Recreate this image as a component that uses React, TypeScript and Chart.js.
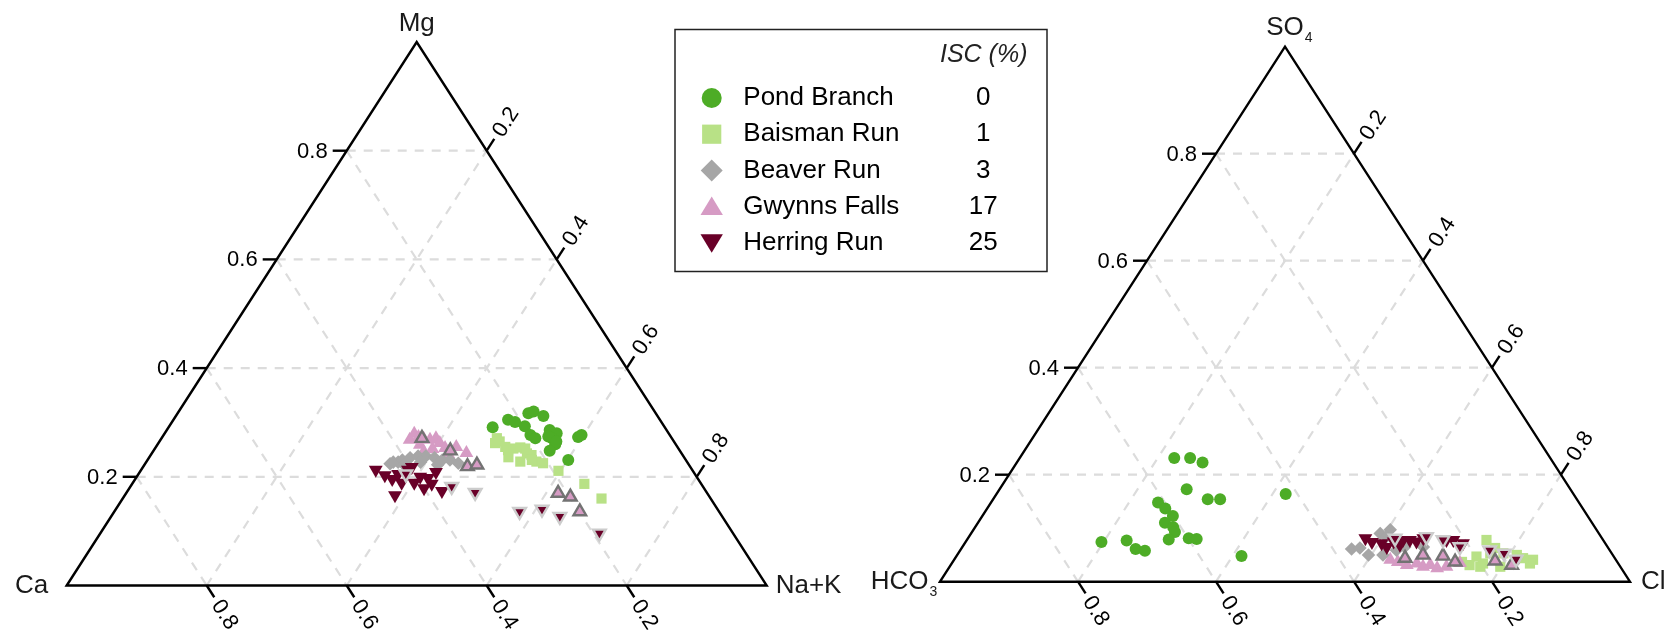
import { useEffect, useRef } from "react";
import { Chart, registerables } from "chart.js";

Chart.register(...registerables);

type Tern = [number, number, number];

const FONT = '"Liberation Sans", Arial, Helvetica, sans-serif';

const TICK_VALUES = [0.2, 0.4, 0.6, 0.8];
const TICK_LABELS = ["0.2", "0.4", "0.6", "0.8"];

const SITES = ["Pond Branch", "Baisman Run", "Beaver Run", "Gwynns Falls", "Herring Run"];
const ISC = ["0", "1", "3", "17", "25"];
const COLORS = ["#4dac26", "#b8e186", "#a6a6a6", "#d69bc4", "#690028"];
const OUTLINE_GWYNNS = "#737373";
const OUTLINE_HERRING = "#cccccc";

// ---------- Cations: [Ca, Mg, Na+K] ----------
const pondCations: Tern[] = [
  [0.246, 0.291, 0.463], [0.217, 0.305, 0.478], [0.209, 0.301, 0.49], [0.199, 0.293, 0.508],
  [0.182, 0.317, 0.501], [0.173, 0.32, 0.507], [0.163, 0.312, 0.525], [0.199, 0.277, 0.524],
  [0.195, 0.271, 0.534], [0.167, 0.286, 0.547], [0.16, 0.28, 0.56], [0.171, 0.271, 0.558],
  [0.172, 0.26, 0.568], [0.186, 0.248, 0.566], [0.133, 0.273, 0.594], [0.126, 0.277, 0.597],
  [0.168, 0.231, 0.601], [0.175, 0.274, 0.551], [0.168, 0.265, 0.567],
];
const baismanCations: Tern[] = [
  [0.25, 0.271, 0.479], [0.249, 0.265, 0.486], [0.246, 0.255, 0.499], [0.245, 0.249, 0.506],
  [0.236, 0.252, 0.512], [0.225, 0.254, 0.521], [0.219, 0.252, 0.529], [0.221, 0.243, 0.536],
  [0.216, 0.24, 0.544], [0.215, 0.228, 0.557], [0.207, 0.225, 0.568], [0.238, 0.228, 0.534],
  [0.251, 0.236, 0.513], [0.192, 0.211, 0.597], [0.167, 0.187, 0.646], [0.156, 0.16, 0.684],
  [0.257, 0.262, 0.481], [0.22, 0.231, 0.549],
];
const beaverCations: Tern[] = [
  [0.426, 0.224, 0.35], [0.413, 0.227, 0.36], [0.42, 0.227, 0.353], [0.405, 0.231, 0.364],
  [0.392, 0.235, 0.373], [0.379, 0.238, 0.383], [0.368, 0.238, 0.394], [0.357, 0.235, 0.408],
  [0.348, 0.231, 0.421], [0.337, 0.231, 0.432], [0.328, 0.225, 0.447], [0.407, 0.222, 0.371],
  [0.381, 0.227, 0.392], [0.359, 0.222, 0.419],
];
const gwynnsCations: Tern[] = [
  [0.376, 0.268, 0.356], [0.364, 0.279, 0.357], [0.361, 0.273, 0.366], [0.355, 0.27, 0.375],
  [0.347, 0.268, 0.385], [0.337, 0.271, 0.392], [0.336, 0.262, 0.402], [0.333, 0.253, 0.414],
  [0.352, 0.251, 0.397], [0.367, 0.246, 0.387], [0.334, 0.242, 0.424], [0.316, 0.255, 0.429],
  [0.307, 0.244, 0.449], [0.366, 0.259, 0.375],
];
const gwynnsOutlinedCations: Tern[] = [
  [0.357, 0.271, 0.372], [0.328, 0.248, 0.424], [0.318, 0.219, 0.463], [0.303, 0.222, 0.475],
  [0.213, 0.17, 0.617], [0.199, 0.163, 0.638], [0.199, 0.136, 0.665],
];
const herringCations: Tern[] = [
  [0.452, 0.213, 0.335], [0.444, 0.203, 0.353], [0.437, 0.196, 0.367], [0.424, 0.205, 0.371],
  [0.427, 0.189, 0.384], [0.406, 0.213, 0.381], [0.398, 0.218, 0.384], [0.409, 0.189, 0.402],
  [0.395, 0.2, 0.405], [0.385, 0.198, 0.417], [0.385, 0.187, 0.428], [0.368, 0.209, 0.423],
  [0.377, 0.174, 0.449], [0.448, 0.166, 0.386], [0.4, 0.179, 0.421],
];
const herringOutlinedCations: Tern[] = [
  [0.413, 0.205, 0.382], [0.359, 0.182, 0.459], [0.331, 0.171, 0.498], [0.285, 0.136, 0.579],
  [0.251, 0.14, 0.609], [0.232, 0.127, 0.641], [0.191, 0.096, 0.713],
];

// ---------- Anions: [HCO3, SO4, Cl] ----------
const pondAnions: Tern[] = [
  [0.545, 0.231, 0.224], [0.522, 0.231, 0.247], [0.508, 0.223, 0.269], [0.556, 0.173, 0.271],
  [0.535, 0.154, 0.311], [0.517, 0.154, 0.329], [0.61, 0.148, 0.242], [0.605, 0.137, 0.258],
  [0.601, 0.123, 0.276], [0.619, 0.11, 0.271], [0.611, 0.102, 0.287], [0.613, 0.093, 0.294],
  [0.629, 0.079, 0.292], [0.599, 0.081, 0.32], [0.588, 0.08, 0.332], [0.729, 0.074, 0.197],
  [0.691, 0.077, 0.232], [0.686, 0.061, 0.253], [0.674, 0.058, 0.268], [0.539, 0.048, 0.413],
  [0.417, 0.164, 0.419],
];
const baismanAnions: Tern[] = [
  [0.169, 0.078, 0.753], [0.199, 0.047, 0.754], [0.217, 0.031, 0.752], [0.196, 0.034, 0.77],
  [0.139, 0.05, 0.811], [0.12, 0.041, 0.839], [0.128, 0.034, 0.838], [0.176, 0.053, 0.771],
  [0.203, 0.028, 0.769], [0.133, 0.044, 0.823], [0.157, 0.053, 0.79], [0.174, 0.028, 0.798],
  [0.225, 0.037, 0.738], [0.164, 0.063, 0.773],
];
const beaverAnions: Tern[] = [
  [0.373, 0.061, 0.566], [0.354, 0.05, 0.596], [0.317, 0.09, 0.593], [0.299, 0.097, 0.604],
  [0.309, 0.059, 0.632], [0.333, 0.05, 0.617], [0.267, 0.065, 0.668], [0.152, 0.034, 0.814],
  [0.311, 0.084, 0.605], [0.294, 0.065, 0.641], [0.36, 0.063, 0.577],
];
const gwynnsAnions: Tern[] = [
  [0.327, 0.041, 0.632], [0.308, 0.031, 0.661], [0.286, 0.028, 0.686], [0.267, 0.025, 0.708],
  [0.252, 0.028, 0.72], [0.292, 0.034, 0.674], [0.318, 0.037, 0.645], [0.274, 0.031, 0.695],
  [0.229, 0.035, 0.736],
];
const gwynnsOutlinedAnions: Tern[] = [
  [0.304, 0.044, 0.652], [0.275, 0.05, 0.675], [0.247, 0.048, 0.705], [0.235, 0.037, 0.728],
  [0.176, 0.039, 0.785], [0.156, 0.031, 0.813],
];
const herringAnions: Tern[] = [
  [0.343, 0.081, 0.576], [0.324, 0.072, 0.604], [0.32, 0.065, 0.615], [0.305, 0.075, 0.62],
  [0.29, 0.078, 0.632], [0.28, 0.078, 0.642], [0.272, 0.075, 0.653], [0.259, 0.081, 0.66],
  [0.227, 0.078, 0.695], [0.217, 0.078, 0.705], [0.206, 0.072, 0.722], [0.337, 0.074, 0.589],
  [0.299, 0.069, 0.632],
];
const herringOutlinedAnions: Tern[] = [
  [0.3, 0.081, 0.619], [0.253, 0.084, 0.663], [0.232, 0.078, 0.69], [0.214, 0.065, 0.721],
  [0.174, 0.059, 0.767], [0.156, 0.053, 0.791], [0.144, 0.042, 0.814],
];

const toXY = (t: Tern) => {
  const s = t[0] + t[1] + t[2];
  return { x: (t[2] + t[1] / 2) / s, y: t[1] / s };
};

type PanelData = {
  pond: Tern[]; baisman: Tern[]; beaver: Tern[]; gwynns: Tern[]; herring: Tern[];
  gwynnsOut: Tern[]; herringOut: Tern[];
};

function ds(label: string, pts: Tern[], style: string, r: number, fill: string, rot = 0, border = "rgba(0,0,0,0)", bw = 0) {
  return {
    label,
    data: pts.map(toXY),
    showLine: false,
    clip: false as any,
    pointStyle: style,
    pointRadius: r,
    pointRotation: rot,
    pointBackgroundColor: fill,
    pointBorderColor: border,
    pointBorderWidth: bw,
    backgroundColor: fill,
    borderColor: border,
    borderWidth: bw,
  };
}

function buildDatasets(p: PanelData) {
  // first dataset is drawn on top
  return [
    ds("Herring Run (outlined)", p.herringOut, "triangle", 7.3, COLORS[4], 180, OUTLINE_HERRING, 2.4),
    ds("Gwynns Falls (outlined)", p.gwynnsOut, "triangle", 7.3, COLORS[3], 0, OUTLINE_GWYNNS, 2.4),
    ds(SITES[4], p.herring, "triangle", 8, COLORS[4], 180),
    ds(SITES[2], p.beaver, "rectRot", 6.8, COLORS[2]),
    ds(SITES[3], p.gwynns, "triangle", 8, COLORS[3]),
    ds(SITES[1], p.baisman, "rect", 7.2, COLORS[1]),
    ds(SITES[0], p.pond, "circle", 6, COLORS[0]),
  ];
}

type LabelCfg = {
  left: string; leftSub?: string;
  top: string; topSub?: string;
  right: string;
  leftCenterOffset: number; rightOffset: number;
};

function makeFrame(cfg: LabelCfg) {
  return {
    id: "ternaryFrame",
    beforeDatasetsDraw(chart: any) {
      const ctx = chart.ctx as CanvasRenderingContext2D;
      const xs = chart.scales.x;
      const ys = chart.scales.y;
      const P = (a: number, b: number, c: number) => {
        const s = a + b + c;
        return { x: xs.getPixelForValue((c + b / 2) / s), y: ys.getPixelForValue(b / s) };
      };
      const line = (p: { x: number; y: number }, q: { x: number; y: number }) => {
        ctx.beginPath();
        ctx.moveTo(p.x, p.y);
        ctx.lineTo(q.x, q.y);
        ctx.stroke();
      };
      const norm = (p: { x: number; y: number }, q: { x: number; y: number }) => {
        const dx = p.x - q.x, dy = p.y - q.y;
        const l = Math.hypot(dx, dy);
        return { x: dx / l, y: dy / l };
      };
      ctx.save();
      // grid
      ctx.strokeStyle = "#dcdcdc";
      ctx.lineWidth = 2.2;
      ctx.setLineDash([9, 8]);
      for (const v of TICK_VALUES) {
        line(P(1 - v, v, 0), P(0, v, 1 - v));
        line(P(v, 1 - v, 0), P(v, 0, 1 - v));
        line(P(1 - v, 0, v), P(0, 1 - v, v));
      }
      ctx.setLineDash([]);
      // triangle
      const A = P(1, 0, 0), B = P(0, 1, 0), C = P(0, 0, 1);
      ctx.strokeStyle = "#000";
      ctx.lineWidth = 2.4;
      ctx.lineJoin = "miter";
      ctx.beginPath();
      ctx.moveTo(A.x, A.y);
      ctx.lineTo(B.x, B.y);
      ctx.lineTo(C.x, C.y);
      ctx.closePath();
      ctx.stroke();

      // ticks
      const TL = 14, GAP = 5;
      ctx.fillStyle = "#000";
      ctx.font = `22px ${FONT}`;
      TICK_VALUES.forEach((v, i) => {
        const lab = TICK_LABELS[i];
        // left edge: top component
        {
          const E = P(1 - v, v, 0), I = P(0, v, 1 - v);
          const d = norm(E, I);
          const T = { x: E.x + d.x * TL, y: E.y + d.y * TL };
          line(E, T);
          ctx.textAlign = "right";
          ctx.textBaseline = "middle";
          ctx.fillText(lab, T.x - GAP, T.y + 1);
        }
        // bottom edge: left component
        {
          const E = P(v, 0, 1 - v), I = P(v, 1 - v, 0);
          const d = norm(E, I);
          const T = { x: E.x + d.x * TL, y: E.y + d.y * TL };
          line(E, T);
          ctx.save();
          ctx.translate(T.x + d.x * GAP, T.y + d.y * GAP);
          ctx.rotate(Math.atan2(d.y, d.x));
          ctx.textAlign = "left";
          ctx.textBaseline = "middle";
          ctx.fillText(lab, 0, 1);
          ctx.restore();
        }
        // right edge: right component
        {
          const E = P(0, 1 - v, v), I = P(1 - v, 0, v);
          const d = norm(E, I);
          const T = { x: E.x + d.x * TL, y: E.y + d.y * TL };
          line(E, T);
          ctx.save();
          ctx.translate(T.x + d.x * GAP, T.y + d.y * GAP);
          ctx.rotate(Math.atan2(d.y, d.x));
          ctx.textAlign = "left";
          ctx.textBaseline = "middle";
          ctx.fillText(lab, 0, 1);
          ctx.restore();
        }
      });

      // vertex labels
      const MAIN = `26px ${FONT}`, SUB = `14px ${FONT}`;
      ctx.fillStyle = "#1a1a1a";
      ctx.textBaseline = "alphabetic";
      ctx.textAlign = "left";
      // top
      ctx.font = MAIN;
      const tw = ctx.measureText(cfg.top).width;
      ctx.fillText(cfg.top, B.x - tw / 2, B.y - 11.5);
      if (cfg.topSub) {
        ctx.font = SUB;
        ctx.fillText(cfg.topSub, B.x + tw / 2 + 1, B.y - 11.5 + 7);
      }
      // left
      ctx.font = MAIN;
      const lw = ctx.measureText(cfg.left).width;
      ctx.font = SUB;
      const lsw = cfg.leftSub ? ctx.measureText(cfg.leftSub).width + 1 : 0;
      const lx = A.x - cfg.leftCenterOffset - (lw + lsw) / 2;
      ctx.font = MAIN;
      ctx.fillText(cfg.left, lx, A.y + 7);
      if (cfg.leftSub) {
        ctx.font = SUB;
        ctx.fillText(cfg.leftSub, lx + lw + 1, A.y + 14.5);
      }
      // right
      ctx.font = MAIN;
      ctx.fillText(cfg.right, C.x + cfg.rightOffset, C.y + 7);
      ctx.restore();
    },
  };
}

const legendPlugin = {
  id: "iscLegend",
  afterDraw(chart: any) {
    const ctx = chart.ctx as CanvasRenderingContext2D;
    ctx.save();
    const bx = 675, by = 29.5, bw = 372, bh = 242;
    ctx.strokeStyle = "#222";
    ctx.lineWidth = 1.5;
    ctx.strokeRect(bx, by, bw, bh);
    ctx.fillStyle = "#222";
    ctx.font = `italic 25px ${FONT}`;
    ctx.textAlign = "left";
    ctx.textBaseline = "middle";
    ctx.fillText("ISC (%)", 940, 55);
    const mx = 711.7, tx = 743.3, vx = 983.3;
    SITES.forEach((name, i) => {
      const y = 98 + i * 36.2;
      ctx.fillStyle = COLORS[i];
      ctx.beginPath();
      if (i === 0) {
        ctx.arc(mx, y, 10, 0, Math.PI * 2);
      } else if (i === 1) {
        ctx.rect(mx - 9.6, y - 9.6, 19.2, 19.2);
      } else if (i === 2) {
        ctx.moveTo(mx, y - 11);
        ctx.lineTo(mx + 11, y);
        ctx.lineTo(mx, y + 11);
        ctx.lineTo(mx - 11, y);
        ctx.closePath();
      } else if (i === 3) {
        ctx.moveTo(mx, y - 10);
        ctx.lineTo(mx + 11.2, y + 8.5);
        ctx.lineTo(mx - 11.2, y + 8.5);
        ctx.closePath();
      } else {
        ctx.moveTo(mx, y + 10);
        ctx.lineTo(mx + 11.2, y - 8.5);
        ctx.lineTo(mx - 11.2, y - 8.5);
        ctx.closePath();
      }
      ctx.fill();
      ctx.fillStyle = "#000";
      ctx.font = `26px ${FONT}`;
      ctx.textAlign = "left";
      ctx.fillText(name, tx, y);
      ctx.textAlign = "center";
      ctx.fillText(ISC[i], vx, y);
    });
    ctx.restore();
  },
};

function chartConfig(p: PanelData, padding: any, frame: any, extra: any[]) {
  return {
    type: "scatter" as const,
    data: { datasets: buildDatasets(p) as any },
    options: {
      responsive: false,
      maintainAspectRatio: false,
      animation: false as const,
      events: [] as any,
      layout: { padding },
      scales: {
        x: { type: "linear" as const, min: 0, max: 1, display: false },
        y: { type: "linear" as const, min: 0, max: 1, display: false },
      },
      plugins: { legend: { display: false }, tooltip: { enabled: false } },
    },
    plugins: [frame, ...extra],
  };
}

export default function App() {
  const leftRef = useRef<HTMLCanvasElement>(null);
  const rightRef = useRef<HTMLCanvasElement>(null);

  useEffect(() => {
    const left = new Chart(
      leftRef.current!,
      chartConfig(
        {
          pond: pondCations, baisman: baismanCations, beaver: beaverCations, gwynns: gwynnsCations,
          herring: herringCations, gwynnsOut: gwynnsOutlinedCations, herringOut: herringOutlinedCations,
        },
        { left: 66.7, right: 1060 - 766.7, top: 42, bottom: 635 - 585.5 },
        makeFrame({ left: "Ca", top: "Mg", right: "Na+K", leftCenterOffset: 35, rightOffset: 9 }),
        [legendPlugin]
      ) as any
    );
    const right = new Chart(
      rightRef.current!,
      chartConfig(
        {
          pond: pondAnions, baisman: baismanAnions, beaver: beaverAnions, gwynns: gwynnsAnions,
          herring: herringAnions, gwynnsOut: gwynnsOutlinedAnions, herringOut: herringOutlinedAnions,
        },
        { left: 80, right: 811 - 690 - 80, top: 46.7, bottom: 635 - 581.7 },
        makeFrame({ left: "HCO", leftSub: "3", top: "SO", topSub: "4", right: "Cl", leftCenterOffset: 36, rightOffset: 11 }),
        []
      ) as any
    );
    return () => {
      left.destroy();
      right.destroy();
    };
  }, []);

  return (
    <div style={{ position: "absolute", left: 0, top: 0, width: 1671, height: 635, background: "#fff", overflow: "hidden" }}>
      <canvas ref={leftRef} width={1060} height={635} style={{ position: "absolute", left: 0, top: 0 }} />
      <canvas ref={rightRef} width={811} height={635} style={{ position: "absolute", left: 860, top: 0 }} />
    </div>
  );
}
